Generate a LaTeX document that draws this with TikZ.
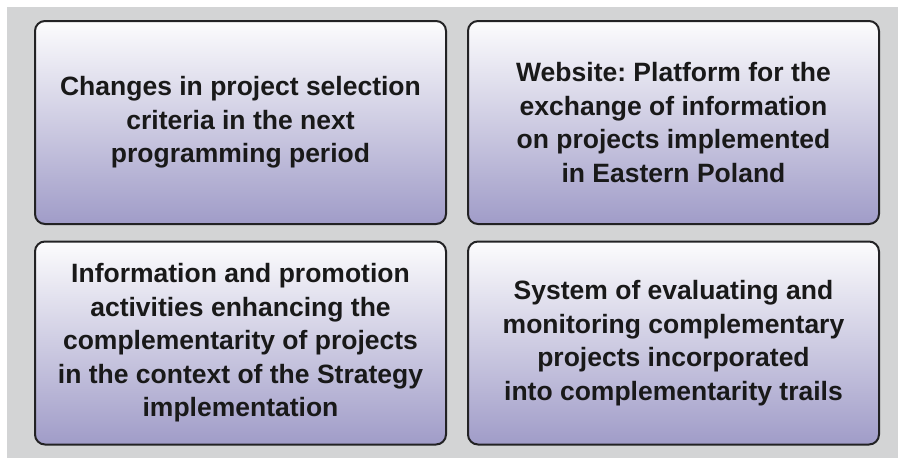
\documentclass[tikz,border=0pt]{standalone}
\usepackage{fontspec}
\setmainfont{Liberation Sans}
\frenchspacing
\definecolor{panelgray}{RGB}{211,212,213}
\definecolor{boxtop}{RGB}{252,252,253}
\definecolor{boxbottom}{RGB}{160,156,200}
\definecolor{boxline}{RGB}{34,34,36}
\tikzset{
  goalbox/.style={draw=boxline,line width=2pt,rounded corners=10pt,
    top color=boxtop,bottom color=boxbottom,
    minimum width=411pt,minimum height=203pt,inner sep=0pt,
    align=center,text=black!90,
    font=\fontsize{26.5}{33.5}\selectfont\bfseries}
}
\begin{document}
\begin{tikzpicture}[x=1pt,y=-1pt]
\useasboundingbox (0,0) rectangle (898,458);
\fill[white] (0,0) rectangle (898,458);
\fill[panelgray] (7,7) rectangle (898,458);
\node[goalbox] (select) at (240.5,122.5) {Changes in project selection\\criteria in the next\\programming period};
\node[goalbox] (website) at (673.5,122.5) {Website: Platform for the\\exchange of information\\on projects implemented\\in Eastern Poland};
\node[goalbox] (promo) at (240.5,343) {Information and promotion\\activities enhancing the\\complementarity of projects\\in the context of the Strategy\\implementation};
\node[goalbox] (monitor) at (673.5,343) {System of evaluating and\\monitoring complementary\\projects incorporated\\into complementarity trails};
\end{tikzpicture}
\end{document}
